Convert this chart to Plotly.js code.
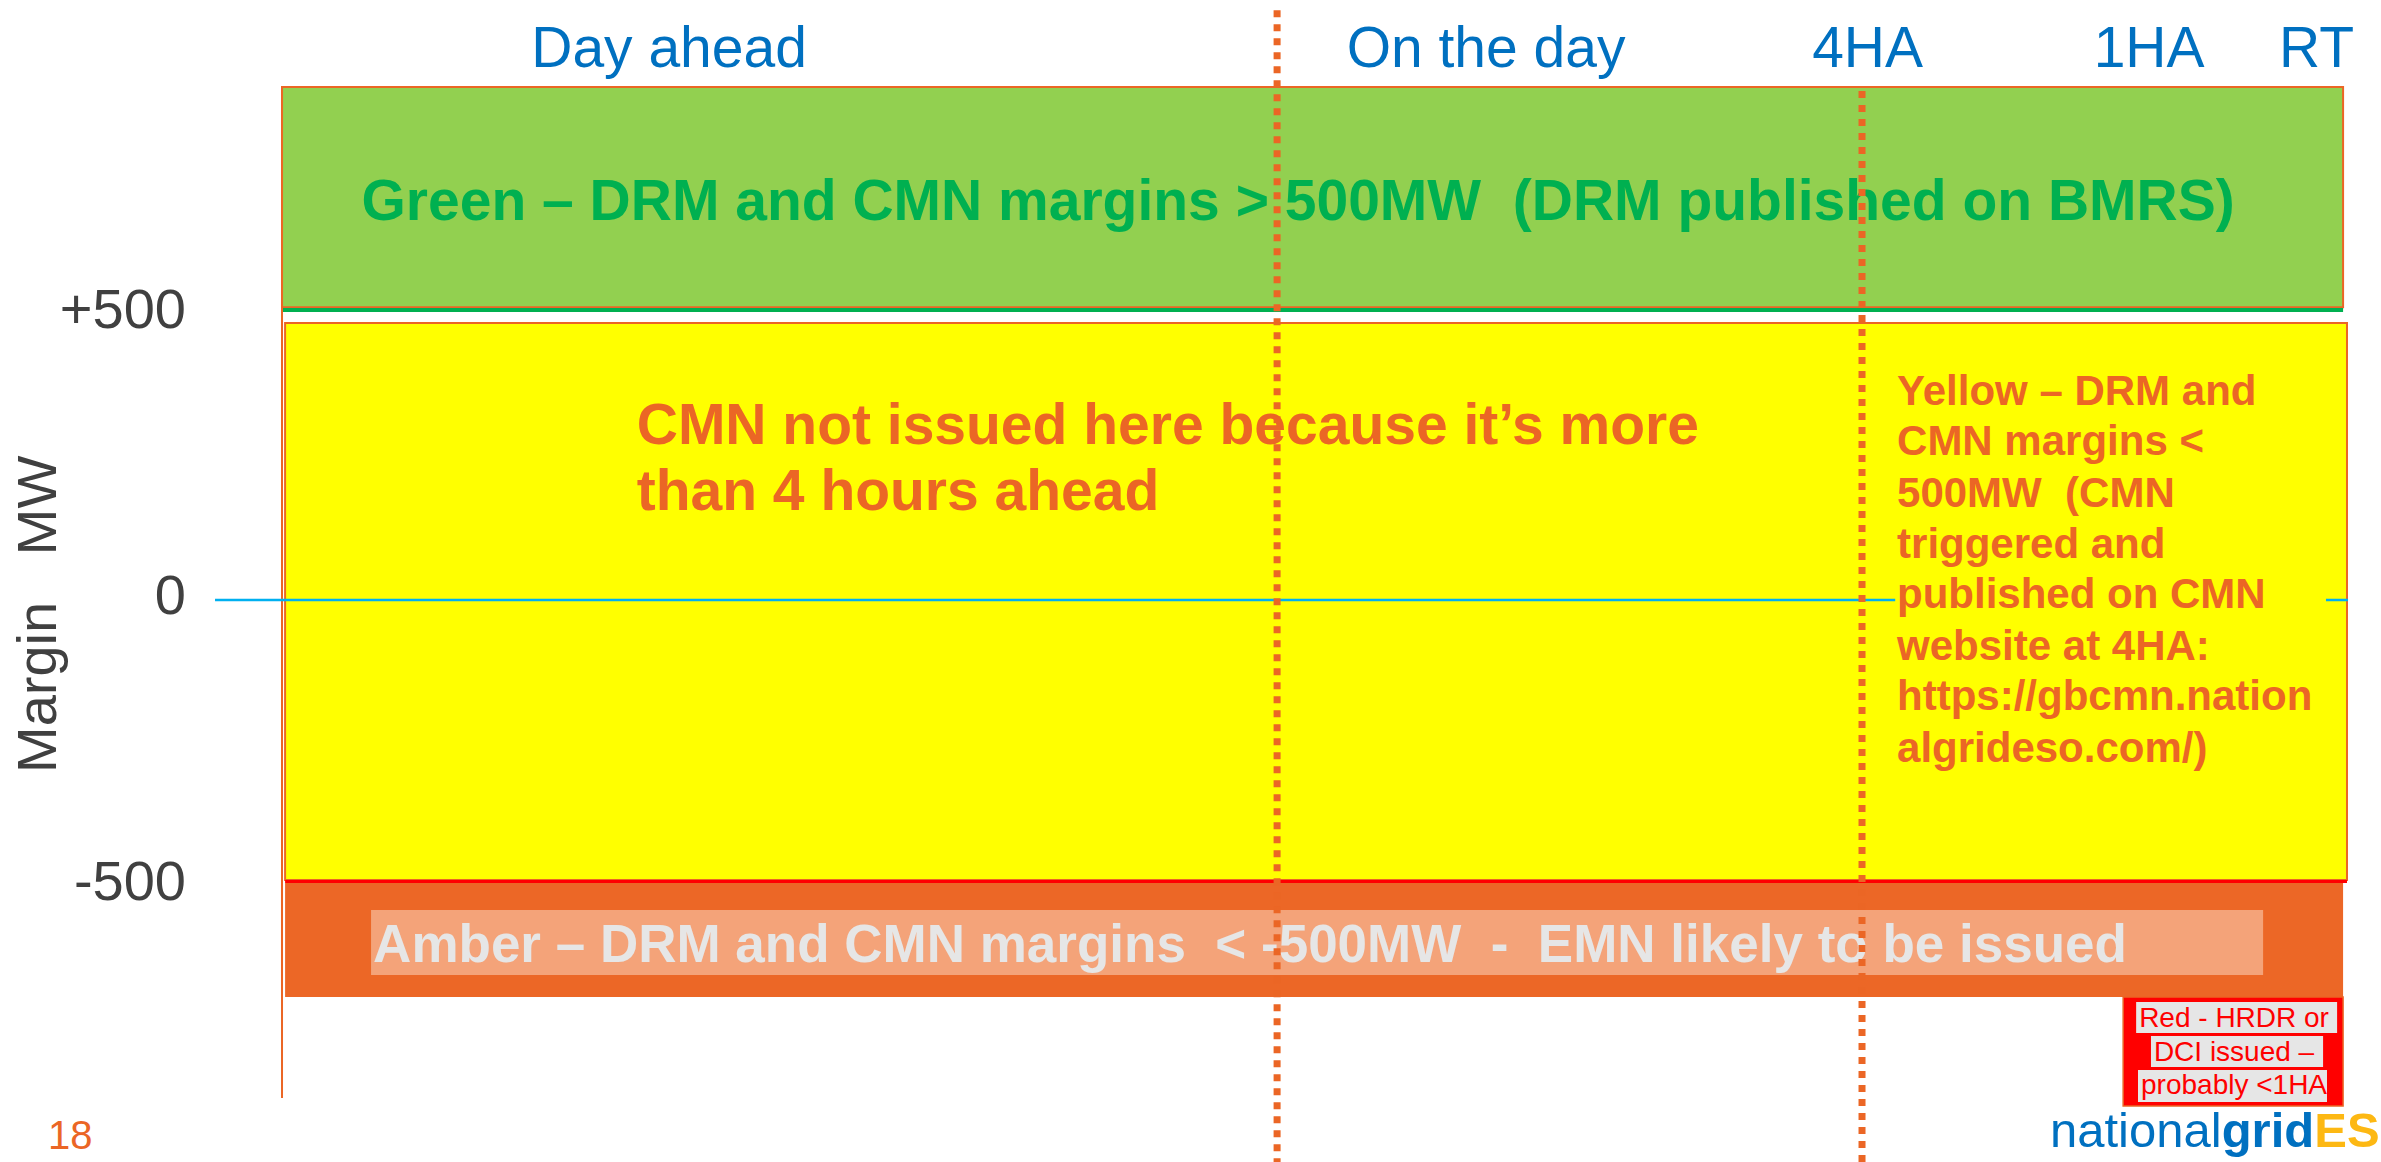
<!DOCTYPE html>
<html>
<head>
<meta charset="utf-8">
<script src="https://cdn.plot.ly/plotly-3.0.1.min.js"></script>
<style>
html,body{margin:0;padding:0;background:#ffffff;}
#chart{width:2381px;height:1162px;}
</style>
</head>
<body>
<div id="chart"></div>
<script>
// ---------- DATA (schematic timeline 0 = day-ahead start, 100 = real time; margin in MW) ----------
const phaseLabels = ['Day ahead', 'On the day', '4HA', '1HA', 'RT'];
const phaseX = [18.78, 58.42, 76.93, 90.59, 98.71];
const phaseY = [957, 957, 957, 957, 957];

const yTickVals = [-500, 0, 500];
const yTickText = ['-500', '0', '+500'];
const yTitle = 'Margin\u00A0\u00A0\u00A0MW';

const dividerX = [48.28, 76.66];      // day boundary, 4 hours ahead
const dividerTop = [1031, 890];

// status bands: Green, Yellow, Amber, Red
const bandNames = ['Green', 'Yellow', 'Amber', 'Red'];
const bandX0 = [0, 0.15, 0.15, 89.33];
const bandX1 = [100, 100.19, 100, 100];
const bandY0 = [512, -489.5, -694, -884.6];
const bandY1 = [897, 484.3, -494.8, -694];
const bandFill = ['#92D050', '#FFFF00', '#EC6726', '#FF0000'];
const bandLine = ['#EB6625', '#EB6625', 'rgba(0,0,0,0)', '#EB6625'];

const greenEdgeY = 507;     // green underline
const redEdgeY = -492;      // red line at -500 boundary
const axisLineY = [897, -870.6];
const zeroLineX = [-3.25, 100.24];

const greenText = 'Green – DRM and CMN margins &gt; 500MW\u00A0\u00A0(DRM published on BMRS)';
const greenX = [49.30];
const greenY = [689];

const cmnLines = ['CMN not issued here because it’s more', 'than 4 hours ahead'];
const cmnX = [17.21, 17.21];
const cmnY = [298.5, 181.5];

const yellowLines = ['Yellow – DRM and', 'CMN margins &lt;', '500MW\u00A0\u00A0(CMN', 'triggered and',
  'published on CMN', 'website at 4HA:', 'https://gbcmn.nation', 'algrideso.com/)'];
const yellowX = [78.36, 78.36, 78.36, 78.36, 78.36, 78.36, 78.36, 78.36];
const yellowY = [359, 271.5, 180.5, 91.5, 4, -87, -174, -265];
const yellowCover = {x0: 78.27, x1: 99.17, y0: -314.7, y1: 384.6};

const amberText = 'Amber – DRM and CMN margins\u00A0\u00A0&lt; -500MW\u00A0\u00A0-\u00A0\u00A0EMN likely to be issued';
const amberX = [4.42];
const amberY = [-609];
const amberHiX = [4.32, 96.12];
const amberHiY = [-655.6, -542];

const redLines = ['Red - HRDR or', 'DCI issued –', 'probably &lt;1HA'];
const redX = [94.71, 94.71, 94.71];
const redY = [-735, -794.5, -852];
const redHiX0 = [89.96, 90.68, 90.05];
const redHiX1 = [99.71, 99.03, 99.22];
const redHiY0 = [-757, -816.4, -877.6];
const redHiY1 = [-702.8, -762.2, -821.7];

const pageNumber = '18';
const logoText = 'national<b>grid</b><b><span style="color:#FDB813">ESO</span></b>';

// ---------- STYLE ----------
const FONT = 'Arial, "Liberation Sans", sans-serif';
const ORANGE = '#EB6625';
const BLUE = '#0070C0';

const shapes = [];
for (let i = 0; i < bandNames.length; i++) {
  shapes.push({type: 'rect', xref: 'x', yref: 'y', layer: 'below',
    x0: bandX0[i], x1: bandX1[i], y0: bandY0[i], y1: bandY1[i],
    fillcolor: bandFill[i], line: {color: bandLine[i], width: i === 3 ? 1.5 : 2}});
}
shapes.push({type: 'line', xref: 'x', yref: 'y', layer: 'below', x0: bandX0[0], x1: bandX1[0],
  y0: greenEdgeY, y1: greenEdgeY, line: {color: '#00B050', width: 4}});
shapes.push({type: 'line', xref: 'x', yref: 'y', layer: 'below', x0: bandX0[1], x1: bandX1[1],
  y0: redEdgeY, y1: redEdgeY, line: {color: '#FF0000', width: 3}});
shapes.push({type: 'line', xref: 'x', yref: 'y', layer: 'below', x0: 0, x1: 0,
  y0: axisLineY[0], y1: axisLineY[1], line: {color: ORANGE, width: 2}});
shapes.push({type: 'line', xref: 'x', yref: 'y', layer: 'below', x0: zeroLineX[0], x1: zeroLineX[1],
  y0: 0, y1: 0, line: {color: '#00B0F0', width: 2.5}});
shapes.push({type: 'rect', xref: 'x', yref: 'y', layer: 'below', x0: yellowCover.x0, x1: yellowCover.x1,
  y0: yellowCover.y0, y1: yellowCover.y1, fillcolor: '#FFFF00', line: {width: 0}});
shapes.push({type: 'rect', xref: 'x', yref: 'y', layer: 'below', x0: amberHiX[0], x1: amberHiX[1],
  y0: amberHiY[0], y1: amberHiY[1], fillcolor: '#F4A379', line: {width: 0}});
for (let i = 0; i < redLines.length; i++) {
  shapes.push({type: 'rect', xref: 'x', yref: 'y', layer: 'below', x0: redHiX0[i], x1: redHiX1[i],
    y0: redHiY0[i], y1: redHiY1[i], fillcolor: '#E6E6E6', line: {width: 0}});
}
for (let i = 0; i < dividerX.length; i++) {
  shapes.push({type: 'line', xref: 'x', yref: 'y', layer: 'above', x0: dividerX[i], x1: dividerX[i],
    y0: dividerTop[i], y1: -982.5, line: {color: ORANGE, width: 7, dash: 'dot'}});
}

function textTrace(x, y, text, size, color, bold, pos) {
  return {type: 'scatter', mode: 'text', x: x, y: y,
    text: text.map(t => bold ? '<b>' + t + '</b>' : t),
    textposition: pos, cliponaxis: false, hoverinfo: 'skip', showlegend: false,
    textfont: {family: FONT, size: size, color: color}};
}

const data = [
  textTrace(phaseX, phaseY, phaseLabels, 57, BLUE, false, 'middle center'),
  textTrace(greenX, greenY, [greenText], 57, '#00B050', true, 'middle center'),
  textTrace(cmnX, cmnY, cmnLines, 57, ORANGE, true, 'middle right'),
  textTrace(yellowX, yellowY, yellowLines, 42, ORANGE, true, 'middle right'),
  textTrace(amberX, amberY, [amberText], 53, '#E6E6E6', true, 'middle right'),
  textTrace(redX, redY, redLines, 28, '#FF0000', false, 'middle center')
];

const layout = {
  width: 2381, height: 1162,
  margin: {l: 192, r: 0, t: 0, b: 0, pad: 0},
  paper_bgcolor: '#ffffff', plot_bgcolor: 'rgba(0,0,0,0)',
  showlegend: false,
  font: {family: FONT},
  xaxis: {range: [-4.367, 101.84], visible: false, fixedrange: true},
  yaxis: {range: [-982.5, 1048.95], tickvals: yTickVals, ticktext: yTickText, ticks: '',
    showgrid: false, zeroline: false, showline: false, fixedrange: true,
    ticklabelstandoff: 5, ticklabelshift: -6,
    tickfont: {family: FONT, size: 56, color: '#404040'},
    title: {text: ''}},
  shapes: shapes,
  annotations: [
    {xref: 'paper', yref: 'y', x: -0.0708, y: -26.2, text: yTitle, textangle: -90, showarrow: false,
      xanchor: 'center', yanchor: 'middle', font: {family: FONT, size: 56, color: '#404040'}},
    {xref: 'paper', yref: 'y', x: -0.0557, y: -935, text: pageNumber, showarrow: false,
      xanchor: 'center', yanchor: 'middle', font: {family: FONT, size: 40, color: ORANGE}},
    {xref: 'x', yref: 'y', x: 85.69, y: -925.7, text: logoText, showarrow: false,
      xanchor: 'left', yanchor: 'middle', font: {family: FONT, size: 49, color: BLUE}}
  ]
};

Plotly.newPlot('chart', data, layout, {staticPlot: true, displayModeBar: false});
</script>
</body>
</html>
